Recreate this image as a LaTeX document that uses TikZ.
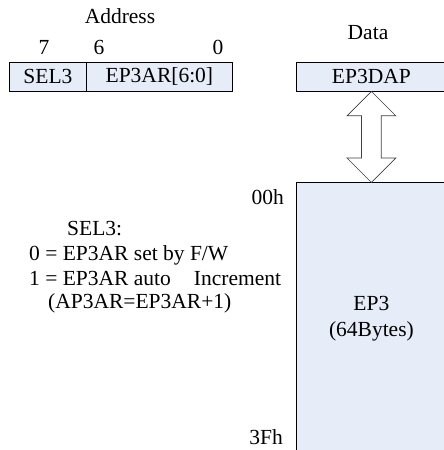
\documentclass[tikz,border=0pt]{standalone}
\usepackage{fontspec}
\setmainfont{Liberation Serif}
\usetikzlibrary{shapes.arrows,calc}
\definecolor{boxfill}{HTML}{E6ECF8}
\begin{document}
\begin{tikzpicture}[x=1pt,y=-1pt,font=\fontsize{21.5}{26}\selectfont,
  cell/.style={draw=black,fill=boxfill,line width=0.8pt,inner sep=0pt,minimum height=29pt},
  txt/.style={inner sep=0pt},
  linetxt/.style={inner sep=0pt,anchor=base west}]
\useasboundingbox (0,0) rectangle (444,450);
\clip (0,0) rectangle (444,450);
% address register
\node[cell,minimum width=77pt,anchor=north west] (sel) at (9,62) {SEL3};
\node[cell,minimum width=146pt,anchor=north west] (ar) at (86,62) {EP3AR[6:0]};
\node[txt] (addr) at (120,16) {Address};
\node[txt] (b7) at (44,47) {7};
\node[txt] (b6) at (99,47) {6};
\node[txt] (b0) at (218,47) {0};
% data register
\node[txt] (data) at (368,33) {Data};
\node[cell,minimum width=150pt,anchor=north west] (dap) at (296,62) {EP3DAP};
% memory
\node[cell,minimum width=150pt,minimum height=272pt,anchor=north west,align=center] (mem) at (296,182) {EP3\\(64Bytes)};
\node[txt,anchor=east] (top) at (284,197) {00h};
\node[txt,anchor=east] (bot) at (283,437) {3Fh};
% double arrow
\node[double arrow,draw=black!75,fill=white,line width=0.7pt,rotate=90,inner sep=9.5pt,
  minimum height=91pt,double arrow head extend=14.5pt] (arr)
  at ($(dap.south)!0.5!(mem.north)$) {};
% note
\node[linetxt] (n1) at (67,235) {SEL3:};
\node[linetxt] (n2) at (29,260) {0 = EP3AR set by F/W};
\node[linetxt] (n3) at (29,285) {1 = EP3AR auto\hspace{23pt}Increment};
\node[linetxt] (n4) at (48,308) {(AP3AR=EP3AR+1)};
\end{tikzpicture}
\end{document}
